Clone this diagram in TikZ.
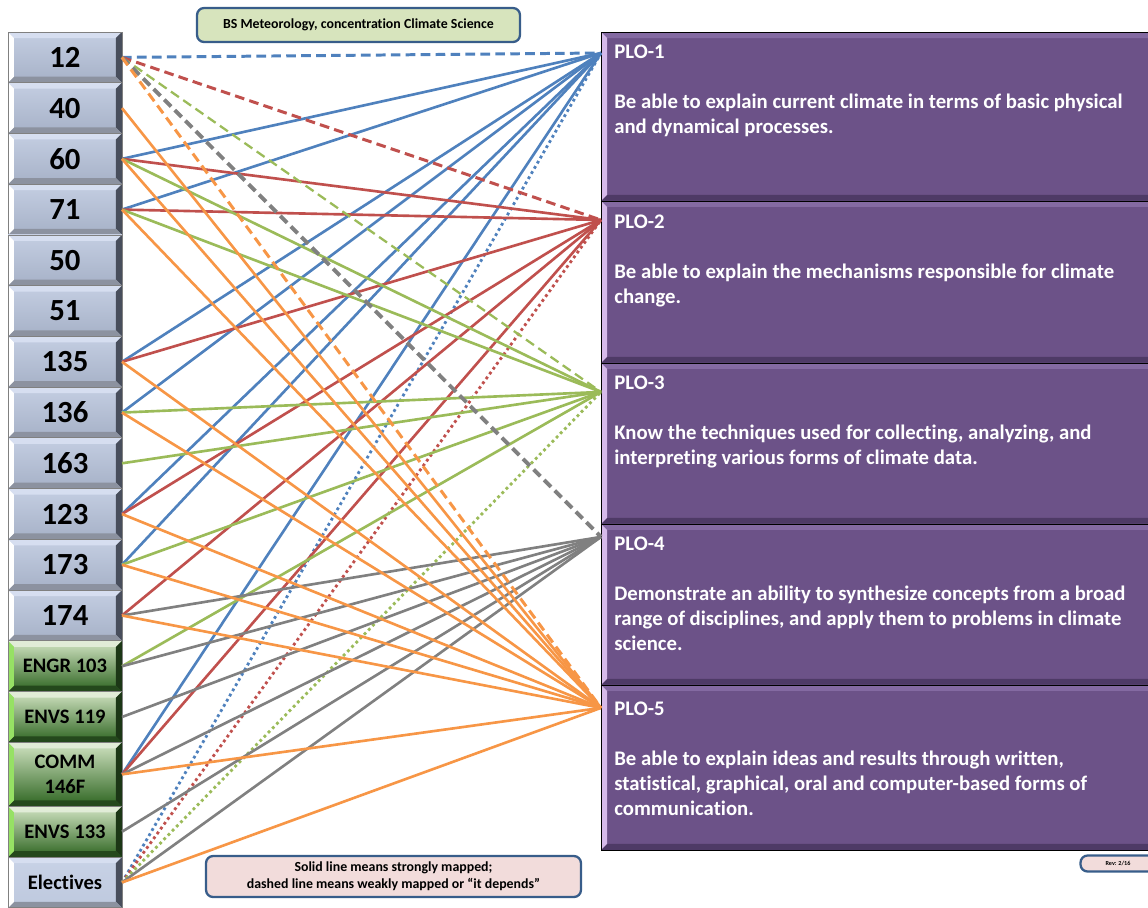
\documentclass[tikz,border=0pt]{standalone}
\usepackage{fontspec}
\setmainfont{Carlito}[Ligatures=NoCommon]
\usetikzlibrary{positioning,calc}

\definecolor{cblue}{RGB}{79,129,189}
\definecolor{cred}{RGB}{192,80,77}
\definecolor{cgreen}{RGB}{155,187,89}
\definecolor{cgray}{RGB}{128,128,128}
\definecolor{corange}{RGB}{247,150,70}
\definecolor{plofill}{RGB}{108,82,136}
\definecolor{plotop}{RGB}{132,106,162}
\definecolor{plobot}{RGB}{78,58,102}
\definecolor{ploleft}{RGB}{214,186,234}
\definecolor{boxline}{RGB}{56,93,138}
\definecolor{coursetop}{RGB}{196,206,226}
\definecolor{coursebot}{RGB}{166,177,199}
\definecolor{bvtop}{RGB}{214,222,240}
\definecolor{bvright}{RGB}{72,78,92}
\definecolor{bvbot}{RGB}{140,146,160}
\definecolor{greentop}{RGB}{210,228,195}
\definecolor{greenbot}{RGB}{45,100,32}
\definecolor{gbvtop}{RGB}{225,236,215}
\definecolor{gbvright}{RGB}{28,55,22}
\definecolor{gbvbot}{RGB}{36,72,28}
\definecolor{gbvleft}{RGB}{150,225,100}
\definecolor{electtop}{RGB}{200,210,230}
\definecolor{electbot}{RGB}{190,201,222}
\definecolor{titlefill}{RGB}{215,228,189}
\definecolor{notefill}{RGB}{242,220,219}

\newcommand{\bevelsize}{0.12cm}

\tikzset{
  bevel/.style n args={4}{path picture={
      \coordinate (nw) at (path picture bounding box.north west);
      \coordinate (ne) at (path picture bounding box.north east);
      \coordinate (sw) at (path picture bounding box.south west);
      \coordinate (se) at (path picture bounding box.south east);
      \fill[#1] (nw) -- (ne) -- ([xshift=-\bevelsize,yshift=-\bevelsize]ne) -- ([xshift=\bevelsize,yshift=-\bevelsize]nw) -- cycle;
      \fill[#2] (ne) -- (se) -- ([xshift=-\bevelsize,yshift=\bevelsize]se) -- ([xshift=-\bevelsize,yshift=-\bevelsize]ne) -- cycle;
      \fill[#3] (sw) -- (se) -- ([xshift=-\bevelsize,yshift=\bevelsize]se) -- ([xshift=\bevelsize,yshift=\bevelsize]sw) -- cycle;
      \fill[#4] (nw) -- (sw) -- ([xshift=\bevelsize,yshift=\bevelsize]sw) -- ([xshift=\bevelsize,yshift=-\bevelsize]nw) -- cycle;
  }},
  course/.style={draw=gray, line width=0.5pt, outer sep=0pt, inner sep=0pt,
    minimum width=2.28cm, minimum height=1.015cm,
    top color=coursetop, bottom color=coursebot,
    bevel={bvtop}{bvright}{bvbot}{white},
    font=\fontsize{17.5}{18}\selectfont\bfseries},
  outside/.style={course, top color=greentop, bottom color=greenbot,
    bevel={gbvtop}{gbvright}{gbvbot}{gbvleft},
    font=\fontsize{11.7}{14.5}\selectfont\bfseries},
  elective/.style={course, top color=electtop, bottom color=electbot,
    font=\fontsize{11.7}{14}\selectfont\bfseries},
  plobox/.style={fill=plofill, draw=black, line width=0.4pt, outer sep=0pt, anchor=north west,
    minimum width=11.2cm,
    bevel={plotop}{plofill}{plobot}{ploleft}},
  plotext/.style={anchor=north west, inner sep=0pt, align=left, text=white,
    font=\fontsize{11.8}{14.2}\selectfont\bfseries},
  notebox/.style={draw=boxline, line width=1.3pt, rounded corners=4pt, inner sep=0pt,
    font=\fontsize{7.9}{9.6}\selectfont\bfseries, align=center},
  strong/.style={line width=1.5pt},
  weak/.style={line width=1.7pt, dash pattern=on 5.5pt off 3pt},
  dotty/.style={line width=1.6pt, dash pattern=on 1.6pt off 1.8pt},
}

\begin{document}
\begin{tikzpicture}[x=0.02cm, y=-0.02cm]
  \useasboundingbox (0,0) rectangle (1148,907);
  \clip (0,0) rectangle (1148,907);

  % courses
  \node[course, anchor=north west] (c12) at (8,32) {12};
  \node[course, below=0pt of c12] (c40) {40};
  \node[course, below=0pt of c40] (c60) {60};
  \node[course, below=0pt of c60] (c71) {71};
  \node[course, below=0pt of c71] (c50) {50};
  \node[course, below=0pt of c50] (c51) {51};
  \node[course, below=0pt of c51] (c135) {135};
  \node[course, below=0pt of c135] (c136) {136};
  \node[course, below=0pt of c136] (c163) {163};
  \node[course, below=0pt of c163] (c123) {123};
  \node[course, below=0pt of c123] (c173) {173};
  \node[course, below=0pt of c173] (c174) {174};
  \node[outside, below=0pt of c174] (engr) {ENGR 103};
  \node[outside, below=0pt of engr] (envsa) {ENVS 119};
  \node[outside, below=0pt of envsa, minimum height=1.28cm, align=center] (comm) {COMM\\146F};
  \node[outside, below=0pt of comm] (envsb) {ENVS 133};
  \node[elective, below=0pt of envsb] (elect) {Electives};

  % learning outcomes
  \node[plobox, minimum height=3.38cm] (plo1) at (601,32) {};
  \node[plobox, minimum height=3.24cm, below=0pt of plo1] (plo2) {};
  \node[plobox, minimum height=3.22cm, below=0pt of plo2] (plo3) {};
  \node[plobox, minimum height=3.22cm, below=0pt of plo3] (plo4) {};
  \node[plobox, minimum height=3.3cm, below=0pt of plo4] (plo5) {};

  \node[plotext] (plo1txt) at ([xshift=0.26cm, yshift=-0.26cm]plo1.north west)
    {PLO-1\\[14.2pt]Be able to explain current climate in terms of basic physical\\and dynamical processes.};
  \node[plotext] (plo2txt) at ([xshift=0.26cm, yshift=-0.27cm]plo2.north west)
    {PLO-2\\[14.2pt]Be able to explain the mechanisms responsible for climate\\change.};
  \node[plotext] (plo3txt) at ([xshift=0.26cm, yshift=-0.26cm]plo3.north west)
    {PLO-3\\[14.2pt]Know the techniques used for collecting, analyzing, and\\interpreting various forms of climate data.};
  \node[plotext] (plo4txt) at ([xshift=0.26cm, yshift=-0.26cm]plo4.north west)
    {PLO-4\\[14.2pt]Demonstrate an ability to synthesize concepts from a broad\\range of disciplines, and apply them to problems in climate\\science.};
  \node[plotext] (plo5txt) at ([xshift=0.26cm, yshift=-0.33cm]plo5.north west)
    {PLO-5\\[14.2pt]Be able to explain ideas and results through written,\\statistical, graphical, oral and computer-based forms of\\communication.};

  \coordinate (p1) at ([yshift=-0.42cm]plo1.north west);
  \coordinate (p2) at ([yshift=-0.38cm]plo2.north west);
  \coordinate (p3) at ([yshift=-0.58cm]plo3.north west);
  \coordinate (p4) at ([yshift=-0.26cm]plo4.north west);
  \coordinate (p5) at ([yshift=-0.46cm]plo5.north west);

  % notes
  \node[notebox, fill=titlefill, minimum width=6.46cm, minimum height=0.68cm] (title) at (358.5,25)
    {BS Meteorology, concentration Climate Science};
  \node[notebox, fill=notefill, minimum width=7.5cm, minimum height=0.82cm] (legend) at (393.5,876.5)
    {Solid line means strongly mapped;\\dashed line means weakly mapped or ``it depends''};
  \node[notebox, fill=notefill, minimum width=1.5cm, minimum height=0.32cm,
    font=\fontsize{3.5}{4}\selectfont\bfseries] (rev) at (1118,863.5) {Rev: 2/16};

  % PLO-1
  \draw[weak, cblue] (c12.east) -- (p1);
  \draw[strong, cblue] (c60.east) -- (p1);
  \draw[strong, cblue] (c71.east) -- (p1);
  \draw[strong, cblue] (c135.east) -- (p1);
  \draw[strong, cblue] (c136.east) -- (p1);
  \draw[strong, cblue] (c123.east) -- (p1);
  \draw[strong, cblue] (c173.east) -- (p1);
  \draw[strong, cblue] (comm.east) -- (p1);
  \draw[dotty, cblue] (elect.east) -- (p1);

  % PLO-2
  \draw[weak, cred] (c12.east) -- (p2);
  \draw[strong, cred] (c60.east) -- (p2);
  \draw[strong, cred] (c71.east) -- (p2);
  \draw[strong, cred] (c135.east) -- (p2);
  \draw[strong, cred] (c123.east) -- (p2);
  \draw[strong, cred] (c174.east) -- (p2);
  \draw[strong, cred] (comm.east) -- (p2);
  \draw[dotty, cred] (elect.east) -- (p2);

  % PLO-3
  \draw[weak, cgreen, line width=1.3pt] (c12.east) -- (p3);
  \draw[strong, cgreen] (c60.east) -- (p3);
  \draw[strong, cgreen] (c71.east) -- (p3);
  \draw[strong, cgreen] (c136.east) -- (p3);
  \draw[strong, cgreen] (c163.east) -- (p3);
  \draw[strong, cgreen] (c173.east) -- (p3);
  \draw[strong, cgreen] (engr.east) -- (p3);
  \draw[dotty, cgreen] (elect.east) -- (p3);

  % PLO-4
  \draw[weak, cgray, line width=2.2pt] (c12.east) -- (p4);
  \draw[strong, cgray] (c174.east) -- (p4);
  \draw[strong, cgray] (engr.east) -- (p4);
  \draw[strong, cgray] (envsa.east) -- (p4);
  \draw[strong, cgray] (comm.east) -- (p4);
  \draw[strong, cgray] (envsb.east) -- (p4);
  \draw[strong, cgray] (elect.east) -- (p4);

  % PLO-5
  \draw[weak, corange] (c12.east) -- (p5);
  \draw[strong, corange] (c40.east) -- (p5);
  \draw[strong, corange] (c60.east) -- (p5);
  \draw[strong, corange] (c71.east) -- (p5);
  \draw[strong, corange] (c135.east) -- (p5);
  \draw[strong, corange] (c136.east) -- (p5);
  \draw[strong, corange] (c123.east) -- (p5);
  \draw[strong, corange] (c173.east) -- (p5);
  \draw[strong, corange] (c174.east) -- (p5);
  \draw[strong, corange] (comm.east) -- (p5);
  \draw[strong, corange] (elect.east) -- (p5);
\end{tikzpicture}
\end{document}
